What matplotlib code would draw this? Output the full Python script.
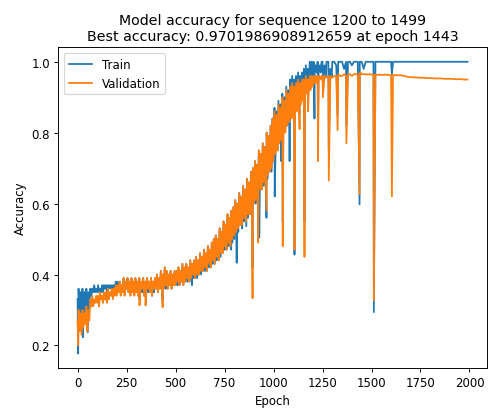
import matplotlib
matplotlib.use("Agg")
import matplotlib.pyplot as plt
import pandas as pd

# epochs read every 5 during the noisy climb, every 10 once training has settled
epochs = list(range(0, 1250, 5)) + list(range(1250, 2000, 10))

train_acc = [
    # 0-95
    0.33, 0.36, 0.28, 0.35, 0.27, 0.36, 0.30, 0.35, 0.29, 0.36, 0.27, 0.35, 0.31, 0.36, 0.34, 0.36, 0.35, 0.37, 0.35, 0.36,
    # 100-195
    0.35, 0.37, 0.35, 0.36, 0.35, 0.37, 0.35, 0.37, 0.36, 0.37, 0.35, 0.37, 0.36, 0.37, 0.36, 0.37, 0.35, 0.37, 0.36, 0.38,
    # 200-295
    0.35, 0.38, 0.35, 0.38, 0.35, 0.37, 0.36, 0.39, 0.35, 0.38, 0.36, 0.39, 0.35, 0.38, 0.35, 0.39, 0.35, 0.38, 0.35, 0.39,
    # 300-395
    0.35, 0.38, 0.34, 0.39, 0.35, 0.38, 0.35, 0.39, 0.34, 0.38, 0.35, 0.39, 0.35, 0.38, 0.35, 0.39, 0.34, 0.38, 0.35, 0.39,
    # 400-495
    0.36, 0.40, 0.35, 0.39, 0.36, 0.41, 0.36, 0.40, 0.36, 0.42, 0.36, 0.41, 0.36, 0.40, 0.37, 0.41, 0.36, 0.40, 0.37, 0.41,
    # 500-595
    0.37, 0.41, 0.37, 0.42, 0.37, 0.41, 0.38, 0.43, 0.37, 0.42, 0.38, 0.43, 0.38, 0.42, 0.38, 0.44, 0.39, 0.43, 0.39, 0.44,
    # 600-695
    0.39, 0.45, 0.39, 0.44, 0.40, 0.46, 0.40, 0.45, 0.41, 0.47, 0.41, 0.46, 0.41, 0.48, 0.42, 0.47, 0.42, 0.49, 0.43, 0.50,
    # 700-795
    0.43, 0.51, 0.44, 0.50, 0.44, 0.53, 0.45, 0.52, 0.46, 0.55, 0.47, 0.54, 0.47, 0.57, 0.48, 0.56, 0.48, 0.58, 0.49, 0.59,
    # 800-895
    0.50, 0.61, 0.52, 0.60, 0.52, 0.63, 0.54, 0.62, 0.53, 0.65, 0.55, 0.64, 0.55, 0.67, 0.56, 0.66, 0.57, 0.69, 0.58, 0.70,
    # 900-995
    0.60, 0.72, 0.60, 0.71, 0.62, 0.75, 0.63, 0.74, 0.64, 0.77, 0.65, 0.76, 0.66, 0.80, 0.67, 0.79, 0.69, 0.82, 0.69, 0.84,
    # 1000-1095
    0.72, 0.87, 0.74, 0.86, 0.75, 0.89, 0.77, 0.88, 0.78, 0.91, 0.80, 0.90, 0.81, 0.93, 0.82, 0.92, 0.84, 0.95, 0.85, 0.96,
    # 1100-1195
    0.85, 0.95, 0.86, 0.96, 0.88, 0.97, 0.89, 0.96, 0.90, 0.97, 0.91, 0.98, 0.92, 0.99, 0.93, 0.98, 0.94, 1.00, 0.95, 1.00,
    # 1200-1245
    0.96, 1.00, 0.97, 0.99, 0.97, 1.00, 0.98, 0.99, 0.97, 1.00,
    # 1250-1340 (step 10 from here)
    1.00, 0.99, 1.00, 1.00, 0.98, 1.00, 1.00, 0.99, 1.00, 1.00,
    # 1350-1440
    1.00, 0.98, 1.00, 1.00, 1.00, 0.99, 1.00, 1.00, 1.00, 1.00,
    # 1450-1540
    1.00, 0.98, 1.00, 1.00, 1.00, 1.00, 1.00, 1.00, 1.00, 1.00,
    # 1550-1640
    1.00, 1.00, 1.00, 1.00, 1.00, 1.00, 1.00, 1.00, 1.00, 1.00,
    # 1650-1740
    1.00, 1.00, 1.00, 1.00, 1.00, 1.00, 1.00, 1.00, 1.00, 1.00,
    # 1750-1840
    1.00, 1.00, 1.00, 1.00, 1.00, 1.00, 1.00, 1.00, 1.00, 1.00,
    # 1850-1940
    1.00, 1.00, 1.00, 1.00, 1.00, 1.00, 1.00, 1.00, 1.00, 1.00,
    # 1950-1990
    1.00, 1.00, 1.00, 1.00, 1.00,
]

val_acc = [
    # 0-95
    0.27, 0.30, 0.24, 0.29, 0.23, 0.30, 0.25, 0.29, 0.26, 0.31, 0.24, 0.30, 0.27, 0.33, 0.31, 0.34, 0.31, 0.33, 0.32, 0.34,
    # 100-195
    0.32, 0.34, 0.31, 0.35, 0.33, 0.34, 0.32, 0.35, 0.33, 0.35, 0.32, 0.36, 0.33, 0.35, 0.34, 0.36, 0.33, 0.36, 0.34, 0.37,
    # 200-295
    0.34, 0.37, 0.35, 0.38, 0.34, 0.37, 0.35, 0.39, 0.34, 0.38, 0.36, 0.39, 0.35, 0.38, 0.34, 0.39, 0.35, 0.38, 0.34, 0.39,
    # 300-395
    0.35, 0.38, 0.34, 0.39, 0.35, 0.38, 0.36, 0.39, 0.34, 0.38, 0.35, 0.39, 0.36, 0.38, 0.35, 0.39, 0.34, 0.38, 0.36, 0.39,
    # 400-495
    0.36, 0.40, 0.35, 0.39, 0.36, 0.41, 0.37, 0.40, 0.36, 0.42, 0.37, 0.41, 0.36, 0.40, 0.37, 0.41, 0.36, 0.40, 0.37, 0.41,
    # 500-595
    0.37, 0.41, 0.38, 0.42, 0.37, 0.41, 0.38, 0.43, 0.37, 0.42, 0.38, 0.43, 0.39, 0.42, 0.38, 0.44, 0.39, 0.43, 0.40, 0.44,
    # 600-695
    0.39, 0.45, 0.40, 0.44, 0.40, 0.46, 0.41, 0.45, 0.41, 0.47, 0.42, 0.46, 0.41, 0.48, 0.43, 0.47, 0.42, 0.49, 0.44, 0.50,
    # 700-795
    0.43, 0.51, 0.45, 0.50, 0.44, 0.53, 0.46, 0.52, 0.46, 0.55, 0.48, 0.54, 0.47, 0.57, 0.49, 0.56, 0.48, 0.58, 0.50, 0.59,
    # 800-895
    0.51, 0.61, 0.52, 0.60, 0.53, 0.63, 0.54, 0.62, 0.54, 0.65, 0.56, 0.64, 0.55, 0.67, 0.57, 0.66, 0.57, 0.69, 0.59, 0.70,
    # 900-995
    0.60, 0.72, 0.61, 0.71, 0.62, 0.75, 0.64, 0.74, 0.64, 0.77, 0.66, 0.76, 0.66, 0.80, 0.68, 0.79, 0.69, 0.82, 0.70, 0.84,
    # 1000-1095
    0.72, 0.86, 0.74, 0.85, 0.75, 0.88, 0.77, 0.87, 0.78, 0.90, 0.80, 0.89, 0.80, 0.92, 0.82, 0.91, 0.83, 0.93, 0.84, 0.94,
    # 1100-1195
    0.84, 0.93, 0.85, 0.94, 0.86, 0.95, 0.87, 0.94, 0.88, 0.95, 0.89, 0.95, 0.90, 0.96, 0.91, 0.95, 0.92, 0.96, 0.92, 0.96,
    # 1200-1245
    0.93, 0.96, 0.94, 0.96, 0.94, 0.96, 0.95, 0.96, 0.95, 0.96,
    # 1250-1340 (step 10 from here)
    0.96, 0.96, 0.955, 0.96, 0.96, 0.955, 0.96, 0.96, 0.965, 0.96,
    # 1350-1440
    0.96, 0.965, 0.96, 0.965, 0.965, 0.96, 0.965, 0.965, 0.965, 0.968,
    # 1450-1540
    0.965, 0.965, 0.965, 0.964, 0.965, 0.964, 0.964, 0.964, 0.963, 0.964,
    # 1550-1640
    0.963, 0.963, 0.964, 0.963, 0.963, 0.962, 0.963, 0.962, 0.962, 0.962,
    # 1650-1740
    0.962, 0.961, 0.960, 0.958, 0.957, 0.957, 0.956, 0.956, 0.956, 0.955,
    # 1750-1840
    0.955, 0.955, 0.955, 0.954, 0.954, 0.954, 0.954, 0.953, 0.953, 0.953,
    # 1850-1940
    0.953, 0.953, 0.952, 0.952, 0.952, 0.952, 0.952, 0.951, 0.951, 0.951,
    # 1950-1990
    0.951, 0.951, 0.950, 0.950, 0.950,
]

# single-epoch collapses
train_dip_epochs = [3, 27, 52, 316, 434, 584, 784, 812, 861, 893, 927, 964, 1006,
                    1039, 1047, 1082, 1107, 1133, 1158, 1176, 1187, 1209, 1227,
                    1252, 1268, 1282, 1297, 1327, 1372, 1439, 1512, 1604]
train_dip_acc = [0.177, 0.223, 0.237, 0.33, 0.33, 0.37, 0.47, 0.433, 0.536,
                 0.42, 0.504, 0.56, 0.62, 0.72, 0.55, 0.72, 0.456, 0.85, 0.55,
                 0.90, 0.94, 0.84, 0.80, 0.93, 0.96, 0.75, 0.96, 0.85, 0.82,
                 0.598, 0.294, 0.965]

val_dip_epochs = [3, 27, 52, 316, 347, 434, 893, 921, 964, 1047, 1107, 1133,
                  1158, 1176, 1227, 1252, 1282, 1327, 1372, 1439, 1443, 1512,
                  1604]
val_dip_acc = [0.20, 0.25, 0.26, 0.313, 0.313, 0.308, 0.333, 0.49, 0.58, 0.48,
               0.47, 0.81, 0.45, 0.86, 0.72, 0.90, 0.665, 0.807, 0.77, 0.627,
               0.9702, 0.327, 0.62]

train = pd.concat([pd.Series(train_acc, index=epochs),
                   pd.Series(train_dip_acc, index=train_dip_epochs)]).sort_index()
val = pd.concat([pd.Series(val_acc, index=epochs),
                 pd.Series(val_dip_acc, index=val_dip_epochs)]).sort_index()

fig = plt.figure(figsize=(488 / 85, 412 / 85), dpi=85)
ax = fig.add_axes([0.119, 0.104, 0.879, 0.779])

ax.plot(train.index, train.values, label="Train")
ax.plot(val.index, val.values, label="Validation")

ax.set_title("Model accuracy for sequence 1200 to 1499\n"
             "Best accuracy: 0.9701986908912659 at epoch 1443")
ax.set_xlabel("Epoch")
ax.set_ylabel("Accuracy")
ax.set_xticks([0, 250, 500, 750, 1000, 1250, 1500, 1750, 2000])
ax.legend(loc="upper left")

fig.savefig("out.png", dpi=85)
